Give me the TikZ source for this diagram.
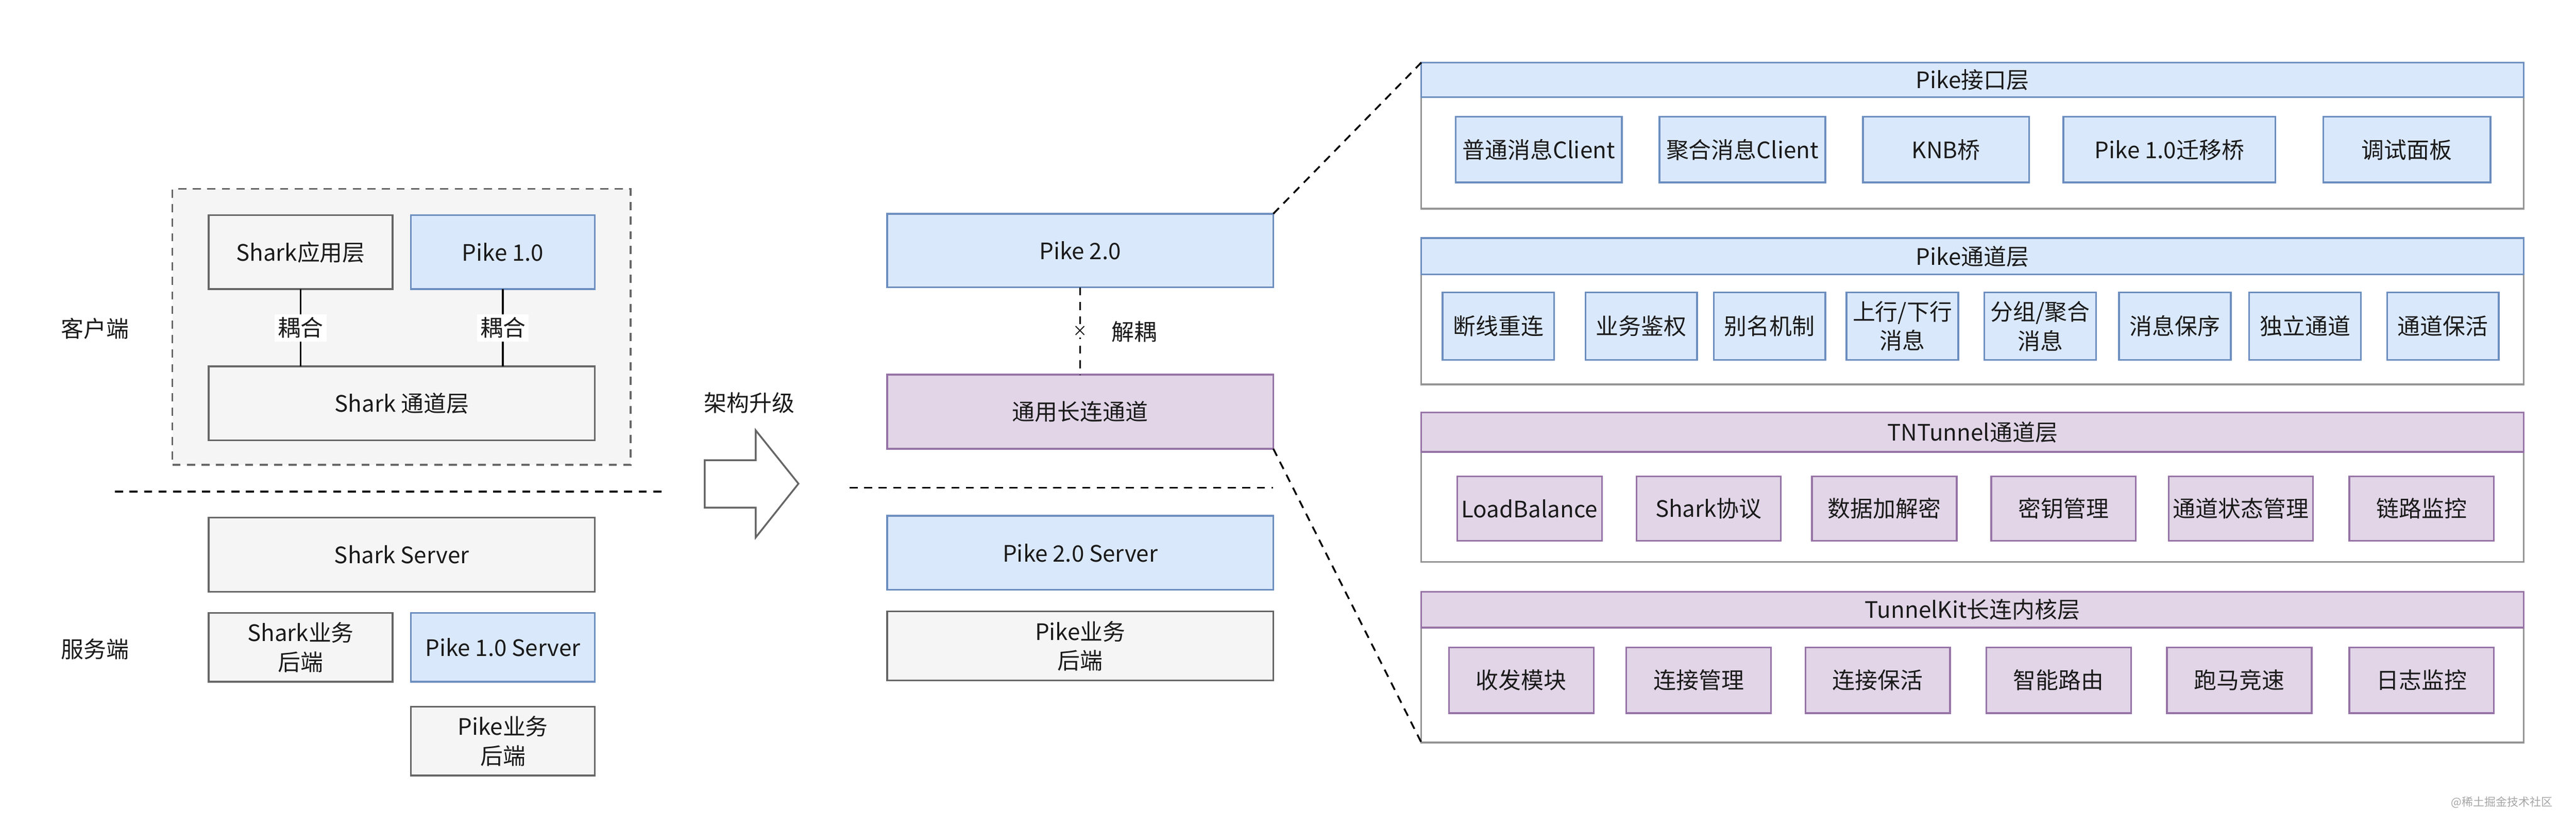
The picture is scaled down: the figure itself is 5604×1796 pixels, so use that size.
\documentclass[tikz,border=0pt]{standalone}
\usepackage{fontspec}
\setmainfont{Noto Sans CJK SC}
\begin{document}
\definecolor{bF}{HTML}{DAE8FC}\definecolor{bS}{HTML}{6C8EBF}
\definecolor{gF}{HTML}{F5F5F5}\definecolor{gS}{HTML}{666666}
\definecolor{pF}{HTML}{E1D5E7}\definecolor{pS}{HTML}{9673A6}
\definecolor{txt}{HTML}{1A1A1A}
\tikzset{
 base/.style={draw, line width=1.1pt, inner sep=0pt, outer sep=0pt, align=center, font=\fontsize{14}{18}\selectfont, text=txt},
 blue/.style={base, fill=bF, draw=bS},
 gray/.style={base, fill=gF, draw=gS},
 purple/.style={base, fill=pF, draw=pS},
 panel/.style={base, fill=white, draw=gS!70},
 lbl/.style={font=\fontsize{14}{18}\selectfont, text=txt, inner sep=2pt},
 dline/.style={dashed, line width=1.1pt, black, dash pattern=on 5pt off 4pt}
}
\newcommand{\mybox}[7]{\node[#1, minimum width={(#5-#3)*0.01cm}, minimum height={(#6-#4)*0.01cm}] (#2) at ({(#3+#5)/2},{(#4+#6)/2}) {#7};}
\begin{tikzpicture}[x=0.01cm,y=-0.01cm]
\useasboundingbox (0,0) rectangle (5604,1796);
% left
\node[draw=gS, dashed, fill=gF, line width=1.1pt, dash pattern=on 5pt off 4pt, minimum width={997*0.01cm}, minimum height={600*0.01cm}, inner sep=0pt] (cont) at (873.5,711) {};
\mybox{gray}{sapp}{454}{468}{854}{629}{Shark应用层}
\mybox{blue}{p1}{894}{468}{1294}{629}{Pike 1.0}
\mybox{gray}{sch}{454}{797}{1294}{958}{Shark 通道层}
\draw[line width=1.1pt] (sapp.south) -- node[lbl, fill=white] (c1) {耦合} (sapp.south |- sch.north);
\draw[line width=1.1pt] (p1.south) -- node[lbl, fill=white] (c2) {耦合} (p1.south |- sch.north);
\node[lbl] (kh) at (207,715) {客户端};
\coordinate (l1a) at (250,1069); \coordinate (l1b) at (1447,1069);
\draw[dline] (l1a) -- (l1b);
\mybox{gray}{ss}{454}{1126}{1294}{1287}{Shark Server}
\mybox{gray}{sbe}{454}{1333}{854}{1483}{Shark业务\\后端}
\mybox{blue}{p1s}{894}{1333}{1294}{1483}{Pike 1.0 Server}
\mybox{gray}{pbe}{894}{1537}{1294}{1687}{Pike业务\\后端}
\node[lbl] (fw) at (207,1412) {服务端};
\node[lbl] (up) at (1630,876) {架构升级};
\draw[line width=1.1pt, draw=gS, fill=white] (1533,1001) -- (1644,1001) -- (1644,936) -- (1737,1052) -- (1644,1169) -- (1644,1104) -- (1533,1104) -- cycle;
% middle
\mybox{blue}{p2}{1930}{465}{2770}{625}{Pike 2.0}
\mybox{purple}{ty}{1930}{815}{2770}{976}{通用长连通道}
\draw[dline] (p2.south) -- node[fill=white, inner sep=1pt, font=\small] (x) {×} (ty.north);
\node[lbl, anchor=west] (jo) at (2410,722) {解耦};
\coordinate (l2a) at (1848,1061); \coordinate (l2b) at (2770,1061);
\draw[dline] (l2a) -- (l2b);
\mybox{blue}{p2s}{1930}{1122}{2770}{1283}{Pike 2.0 Server}
\mybox{gray}{p2b}{1930}{1330}{2770}{1480}{Pike业务\\后端}
% right panels
\mybox{panel}{b1}{3092}{136}{5490}{454}{}
\mybox{blue}{h1}{3092}{136}{5490}{211}{Pike接口层}
\mybox{blue}{a1}{3167}{254}{3528}{397}{普通消息Client}
\mybox{blue}{a2}{3610}{254}{3971}{397}{聚合消息Client}
\mybox{blue}{a3}{4053}{254}{4414}{397}{KNB桥}
\mybox{blue}{a4}{4489}{254}{4950}{397}{Pike 1.0迁移桥}
\mybox{blue}{a5}{5054}{254}{5418}{397}{调试面板}
\mybox{panel}{b2}{3092}{518}{5490}{836}{}
\mybox{blue}{h2}{3092}{518}{5490}{597}{Pike通道层}
\mybox{blue}{c1b}{3138}{636}{3381}{783}{断线重连}
\mybox{blue}{c2b}{3449}{636}{3692}{783}{业务鉴权}
\mybox{blue}{c3b}{3728}{636}{3971}{783}{别名机制}
\mybox{blue}{c4b}{4017}{636}{4260}{783}{上行/下行\\消息}
\mybox{blue}{c5b}{4317}{636}{4560}{783}{分组/聚合\\消息}
\mybox{blue}{c6b}{4610}{636}{4853}{783}{消息保序}
\mybox{blue}{c7b}{4893}{636}{5136}{783}{独立通道}
\mybox{blue}{c8b}{5193}{636}{5436}{783}{通道保活}
\mybox{panel}{b3}{3092}{897}{5490}{1222}{}
\mybox{purple}{h3}{3092}{897}{5490}{983}{TNTunnel通道层}
\mybox{purple}{t1}{3170}{1036}{3485}{1176}{LoadBalance}
\mybox{purple}{t2}{3560}{1036}{3874}{1176}{Shark协议}
\mybox{purple}{t3}{3942}{1036}{4257}{1176}{数据加解密}
\mybox{purple}{t4}{4332}{1036}{4646}{1176}{密钥管理}
\mybox{purple}{t5}{4718}{1036}{5032}{1176}{通道状态管理}
\mybox{purple}{t6}{5111}{1036}{5425}{1176}{链路监控}
\mybox{panel}{b4}{3092}{1287}{5490}{1615}{}
\mybox{purple}{h4}{3092}{1287}{5490}{1365}{TunnelKit长连内核层}
\mybox{purple}{k1}{3152}{1408}{3467}{1551}{收发模块}
\mybox{purple}{k2}{3538}{1408}{3853}{1551}{连接管理}
\mybox{purple}{k3}{3928}{1408}{4242}{1551}{连接保活}
\mybox{purple}{k4}{4321}{1408}{4636}{1551}{智能路由}
\mybox{purple}{k5}{4714}{1408}{5029}{1551}{跑马竞速}
\mybox{purple}{k6}{5111}{1408}{5425}{1551}{日志监控}
\draw[dline] (p2.north east) -- (h1.north west);
\draw[dline] (ty.south east) -- (b4.south west);
\node[font=\fontsize{7}{8}\selectfont, text=gray!70, anchor=east] (wm) at (5565,1745) {@稀土掘金技术社区};
\end{tikzpicture}
\end{document}
